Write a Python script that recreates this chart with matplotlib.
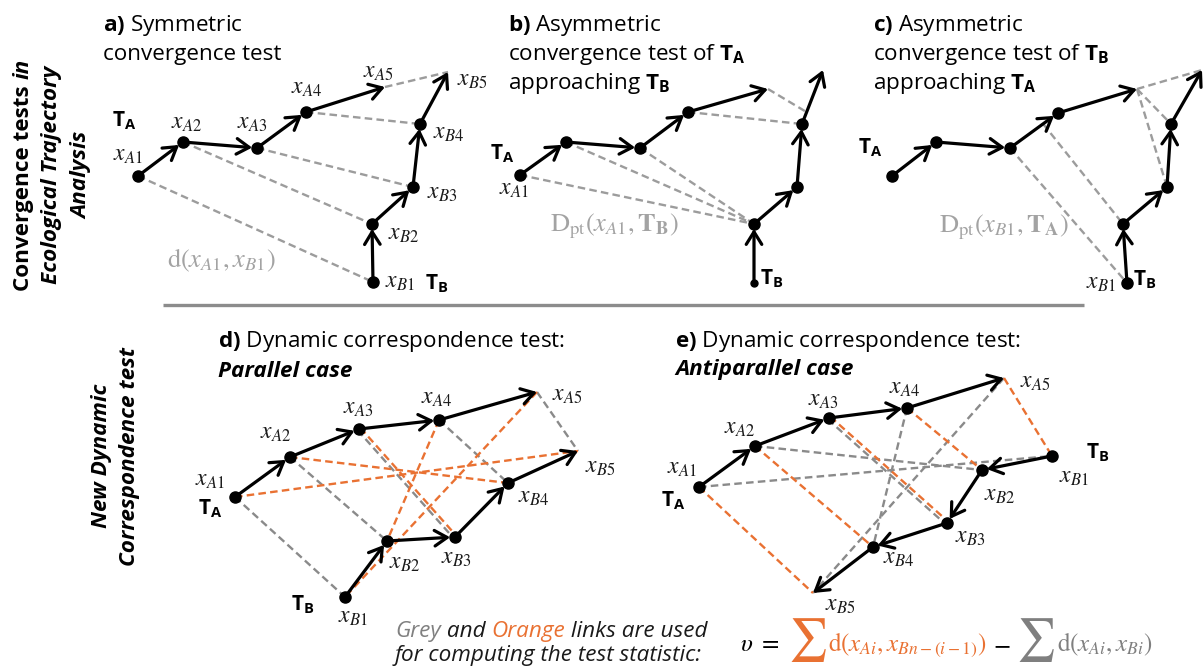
import numpy as np
import matplotlib
matplotlib.use('Agg')
import matplotlib.pyplot as plt

plt.rcParams['font.family'] = ['Open Sans', 'DejaVu Sans']
plt.rcParams['mathtext.fontset'] = 'custom'
plt.rcParams['mathtext.rm'] = 'Open Sans'
plt.rcParams['mathtext.it'] = 'Open Sans:italic'
plt.rcParams['mathtext.bf'] = 'Open Sans:bold'

ORANGE = '#e97132'
GREY = '#8a8a8a'
LIGHT = '#a3a3a3'
INK = '#1a1a1a'

# trajectory points, in figure pixels (y runs downwards)
a_Ax = [138, 183, 257, 306, 385]
a_Ay = [176, 142, 148, 112, 87]
a_Bx = [373, 372, 413, 420, 448]
a_By = [282, 224, 187, 124, 72]

b_Ax = [520, 566, 640, 688, 768]
b_Ay = [175, 142, 148, 112, 89]
b_Bx = [754, 754, 797, 802, 823]
b_By = [283, 224, 187, 124, 70]

c_Ax = [892, 936, 1010, 1058, 1137]
c_Ay = [176, 142, 148, 113, 89]
c_Bx = [1127, 1123, 1167, 1171, 1202]
c_By = [283, 224, 187, 124, 70]

d_Ax = [235, 290, 359, 439, 537]
d_Ay = [497, 457, 429, 420, 392]
d_Bx = [345, 387, 455, 508, 578]
d_By = [597, 541, 537, 483, 451]

e_Ax = [699, 755, 829, 907, 1004]
e_Ay = [487, 446, 418, 408, 378]
e_Bx = [1052, 982, 947, 873, 813]
e_By = [456, 470, 523, 547, 593]

# links as (position on T_A, position on T_B); fractional = point on a segment
a_links = [(0, 0), (1, 1), (2, 2), (3, 3), (4, 4)]
b_links = [(0, 1), (1, 1), (2, 1), (3, 3), (4, 3.22)]
c_links = [(2, 0), (2.69, 1), (4, 2), (4, 3), (4, 4)]
grey_links = [(0, 0), (1, 1), (2, 2), (3, 3), (4, 4)]
orange_links = [(0, 4), (1, 3), (2, 2), (3, 1), (4, 0)]


def along(xs, ys, t):
    i = min(int(np.floor(t)), len(xs) - 2)
    f = t - i
    return xs[i] + f * (xs[i + 1] - xs[i]), ys[i] + f * (ys[i + 1] - ys[i])


def links(ax, A, B, pairs, color, shift=None):
    for ta, tb in pairs:
        x1, y1 = along(A[0], A[1], ta)
        x2, y2 = along(B[0], B[1], tb)
        if shift is not None and (ta, tb) in shift[0]:
            dx, dy = x2 - x1, y2 - y1
            n = np.hypot(dx, dy)
            ox, oy = -dy / n * shift[1], dx / n * shift[1]
            x1, x2, y1, y2 = x1 + ox, x2 + ox, y1 + oy, y2 + oy
        ax.plot([x1, x2], [y1, y2], color=color, lw=1.7, dashes=(3.2, 1.8),
                zorder=1, solid_capstyle='butt')


def trajectory(ax, xs, ys, ms0=8):
    n = len(xs)
    for i in range(n - 1):
        last = i == n - 2
        ax.annotate('', xy=(xs[i + 1], ys[i + 1]), xytext=(xs[i], ys[i]),
                    arrowprops=dict(arrowstyle='->,head_length=0.45,head_width=0.28',
                                    lw=2.3, color='black', shrinkA=0,
                                    shrinkB=0 if last else 3.5, mutation_scale=20),
                    zorder=3)
    ax.plot(xs[1:-1], ys[1:-1], 'o', color='black', ms=8, zorder=4)
    ax.plot(xs[0], ys[0], 'o', color='black', ms=ms0, zorder=4)


def xlab(ax, x, y, s, color=INK, size=17):
    ax.text(x, y, s, ha='center', va='center', color=color, fontsize=size,
            math_fontfamily='stix')


def tlab(ax, x, y, s):
    ax.text(x, y, r'$\mathbf{T}_{\mathbf{%s}}$' % s, ha='center', va='center',
            color='black', fontsize=15)


def hrun(ax, x, y, pieces, **kw):
    r = ax.figure.canvas.get_renderer()
    for s, c, extra, pad in pieces:
        t = ax.text(x, y, s, color=c, ha='left', va='baseline', **kw, **extra)
        x += t.get_window_extent(r).width + pad
    return x


def vrun(ax, x, yc, pieces, **kw):
    r = ax.figure.canvas.get_renderer()
    texts, lens = [], []
    for s, extra in pieces:
        t = ax.text(0, 0, s, rotation=90, rotation_mode='anchor', ha='left',
                    va='center', **kw, **extra)
        texts.append(t)
        lens.append(t.get_window_extent(r).height)
    y = yc + sum(lens) / 2
    for t, L in zip(texts, lens):
        t.set_position((x, y))
        y -= L


fig = plt.figure(figsize=(12.04, 6.71), dpi=100)
ax = fig.add_axes([0, 0, 1, 1])
ax.set_xlim(0, 1204)
ax.set_ylim(671, 0)
ax.axis('off')

TS = 16.2

# side headings
vrun(ax, 23, 175, [('Convergence tests ', {}), ('in', {'style': 'italic'})],
     fontsize=TS, fontweight='bold', color='black')
vrun(ax, 52, 175, [('Ecological Trajectory', {})], fontsize=TS,
     fontweight='bold', style='italic', color='black')
vrun(ax, 82, 175, [('Analysis', {})], fontsize=TS, fontweight='bold',
     style='italic', color='black')
vrun(ax, 102, 456, [('New Dynamic', {})], fontsize=TS, fontweight='bold',
     style='italic', color='black')
vrun(ax, 130, 456, [('Correspondence test', {})], fontsize=TS,
     fontweight='bold', style='italic', color='black')

ax.plot([163, 1084], [305, 305], color='#8c8c8c', lw=2.4, solid_capstyle='butt')

# ---- a) symmetric convergence
A, B = (a_Ax, a_Ay), (a_Bx, a_By)
links(ax, A, B, a_links, '#9c9c9c')
trajectory(ax, *A)
trajectory(ax, *B)
ax.text(103, 31, r'$\mathbf{a)}$ Symmetric', fontsize=TS, va='baseline')
ax.text(103, 60, 'convergence test', fontsize=TS, va='baseline')
tlab(ax, 124, 121, 'A')
tlab(ax, 437, 284, 'B')
for i, (x, y) in enumerate([(128, 155), (187, 123), (252, 123), (307, 88), (378, 72)]):
    xlab(ax, x, y, r'$x_{A%d}$' % (i + 1))
for i, (x, y) in enumerate([(400, 282), (404, 234), (442, 193), (449, 133), (472, 80)]):
    xlab(ax, x, y, r'$x_{B%d}$' % (i + 1))
xlab(ax, 221, 260, r'$\mathrm{d}(x_{A1},x_{B1})$', color=LIGHT, size=19)

# ---- b) T_A approaching T_B
A, B = (b_Ax, b_Ay), (b_Bx, b_By)
links(ax, A, B, b_links, '#9c9c9c')
trajectory(ax, *A)
trajectory(ax, *B, ms0=5)
ax.text(508, 31, r'$\mathbf{b)}$ Asymmetric', fontsize=TS, va='baseline')
ax.text(508, 60, r'convergence test of $\mathbf{T}_{\mathbf{A}}$', fontsize=TS, va='baseline')
ax.text(508, 89, r'approaching $\mathbf{T}_{\mathbf{B}}$', fontsize=TS, va='baseline')
tlab(ax, 502, 154, 'A')
tlab(ax, 772, 279, 'B')
xlab(ax, 514, 189, r'$x_{A1}$')
xlab(ax, 614, 226, r'$\mathrm{D}_{\mathrm{pt}}(x_{A1},\mathbf{T}_{\mathbf{B}})$', color=LIGHT, size=19)

# ---- c) T_B approaching T_A
A, B = (c_Ax, c_Ay), (c_Bx, c_By)
links(ax, A, B, c_links, '#9c9c9c')
trajectory(ax, *A)
trajectory(ax, *B)
ax.text(873, 31, r'$\mathbf{c)}$ Asymmetric', fontsize=TS, va='baseline')
ax.text(873, 60, r'convergence test of $\mathbf{T}_{\mathbf{B}}$', fontsize=TS, va='baseline')
ax.text(873, 89, r'approaching $\mathbf{T}_{\mathbf{A}}$', fontsize=TS, va='baseline')
tlab(ax, 870, 148, 'A')
tlab(ax, 1145, 280, 'B')
xlab(ax, 1101, 283, r'$x_{B1}$')
xlab(ax, 1004, 227, r'$\mathrm{D}_{\mathrm{pt}}(x_{B1},\mathbf{T}_{\mathbf{A}})$', color=LIGHT, size=19)

# ---- d) parallel case
A, B = (d_Ax, d_Ay), (d_Bx, d_By)
links(ax, A, B, grey_links, GREY, shift=([(2, 2)], 1.8))
links(ax, A, B, orange_links, ORANGE, shift=([(2, 2)], -1.8))
trajectory(ax, *A)
trajectory(ax, *B)
ax.text(218, 347, r'$\mathbf{d)}$ Dynamic correspondence test:', fontsize=TS, va='baseline')
ax.text(218, 377, 'Parallel case', fontsize=TS, va='baseline', fontweight='bold', style='italic')
tlab(ax, 210, 509, 'A')
tlab(ax, 303, 605, 'B')
for i, (x, y) in enumerate([(210, 480), (276, 433), (358, 408), (437, 398), (567, 395)]):
    xlab(ax, x, y, r'$x_{A%d}$' % (i + 1))
for i, (x, y) in enumerate([(353, 617), (405, 563), (456, 558), (534, 497), (600, 467)]):
    xlab(ax, x, y, r'$x_{B%d}$' % (i + 1))

# ---- e) antiparallel case
A, B = (e_Ax, e_Ay), (e_Bx, e_By)
links(ax, A, B, grey_links, GREY, shift=([(2, 2)], 1.8))
links(ax, A, B, orange_links, ORANGE, shift=([(2, 2)], -1.8))
trajectory(ax, *A)
trajectory(ax, *B)
ax.text(675, 347, r'$\mathbf{e)}$ Dynamic correspondence test:', fontsize=TS, va='baseline')
ax.text(675, 375, 'Antiparallel case', fontsize=TS, va='baseline', fontweight='bold', style='italic')
tlab(ax, 673, 501, 'A')
tlab(ax, 1098, 453, 'B')
for i, (x, y) in enumerate([(682, 468), (740, 428), (823, 400), (905, 388), (1035, 382)]):
    xlab(ax, x, y, r'$x_{A%d}$' % (i + 1))
for i, (x, y) in enumerate([(1074, 477), (1000, 495), (970, 537), (899, 558), (840, 605)]):
    xlab(ax, x, y, r'$x_{B%d}$' % (i + 1))

# ---- test statistic note
hrun(ax, 395, 637, [('Grey', '#808080', {}, 0), (' and ', INK, {}, 0),
                    ('Orange', ORANGE, {}, 0), (' links are used', INK, {}, 0)],
     fontsize=TS, style='italic')
ax.text(395, 661, 'for computing the test statistic:', fontsize=TS,
        style='italic', color=INK, va='baseline')
hrun(ax, 740, 651, [
    (r'$\upsilon\ =$', 'black', {'fontsize': 18}, 8),
    (r'$\sum$', ORANGE, {'fontsize': 31}, 2),
    (r'$\mathrm{d}\left(x_{Ai},x_{Bn-(i-1)}\right)$', ORANGE, {'fontsize': 18}, 6),
    (r'$-$', 'black', {'fontsize': 18}, 6),
    (r'$\sum$', '#7f7f7f', {'fontsize': 31}, 2),
    (r'$\mathrm{d}(x_{Ai},x_{Bi})$', '#7f7f7f', {'fontsize': 18}, 0),
], math_fontfamily='stix')

fig.savefig('out.png', dpi=100)
